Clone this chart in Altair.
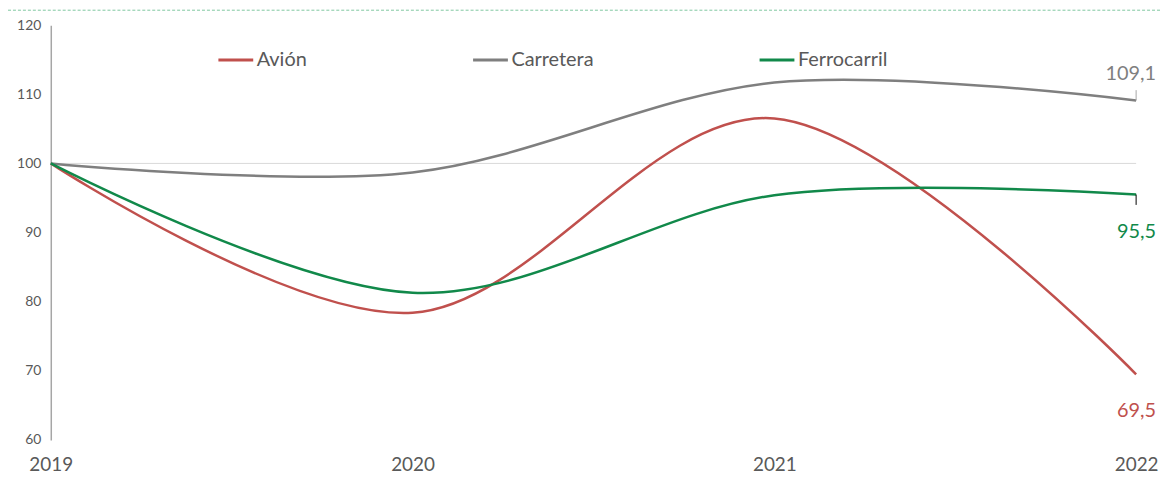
import altair as alt
import pandas as pd

years = [2019, 2020, 2021, 2022]
avion = [100, 78.4, 106.5, 69.5]
carretera = [100, 98.7, 111.7, 109.1]
ferrocarril = [100, 81.3, 95.4, 95.5]
series = ["Avión", "Carretera", "Ferrocarril"]
colors = ["#C0504D", "#7F7F7F", "#11894A"]

rows = []
for name, vals in zip(series, [avion, carretera, ferrocarril]):
    for y, v in zip(years, vals):
        rows.append({"year": y, "value": v, "serie": name})
df = pd.DataFrame(rows)

FONT = "Lato"
W, H = 1091, 417

xscale = alt.Scale(domain=[2019, 2022], nice=False, zero=False)
yscale = alt.Scale(domain=[60, 120], nice=False, zero=False)

x_axis = alt.Axis(values=years, format="d", title=None, grid=False, domain=False,
                  ticks=False, labelFontSize=19, labelColor="#595959", labelFont=FONT,
                  labelPadding=16, labelFlush=False)
y_axis = alt.Axis(values=[60, 70, 80, 90, 100, 110, 120], title=None, grid=False,
                  domain=True, domainColor="#A6A6A6", domainWidth=1.5, ticks=False,
                  labelFontSize=14, labelColor="#595959", labelFont=FONT, labelPadding=10)

ref = alt.Chart(pd.DataFrame({"value": [100]})).mark_rule(color="#D9D9D9", strokeWidth=1).encode(
    y=alt.Y("value:Q", scale=yscale, axis=y_axis)
)

topline = alt.Chart(pd.DataFrame({"v": [0]})).mark_rule(
    color="#7FC8A0", strokeDash=[3, 2], strokeWidth=1
).encode(x=alt.value(-43), x2=alt.value(W + 24), y=alt.value(-15))

lines = alt.Chart(df).mark_line(interpolate="cardinal", strokeWidth=2.5).encode(
    x=alt.X("year:Q", scale=xscale, axis=x_axis),
    y=alt.Y("value:Q", scale=yscale, axis=y_axis),
    color=alt.Color("serie:N", scale=alt.Scale(domain=series, range=colors),
                    legend=alt.Legend(title=None, orient="none", legendX=167, legendY=16,
                                      direction="horizontal", symbolType="stroke",
                                      symbolSize=1225, symbolStrokeWidth=3,
                                      labelFontSize=20, labelColor="#595959", labelFont=FONT,
                                      columnPadding=160, labelOffset=2)),
)

last = df[df["year"] == 2022]
lbl_texts = {"Avión": "69,5", "Carretera": "109,1", "Ferrocarril": "95,5"}
lbl_dy = {"Avión": 37, "Carretera": -27, "Ferrocarril": 38}
labels = []
for name, col in zip(series, colors):
    d = last[last["serie"] == name].assign(txt=lbl_texts[name])
    labels.append(
        alt.Chart(d).mark_text(font=FONT, fontSize=20, color=col, align="right",
                               baseline="middle", dx=20, dy=lbl_dy[name]).encode(
            x=alt.X("year:Q", scale=xscale),
            y=alt.Y("value:Q", scale=yscale),
            text="txt:N")
    )

# short leader lines for end labels
leaders = pd.DataFrame({"year": [2022, 2022], "value": [109.1, 95.5], "value2": [110.6, 94.0],
                        "c": ["#A6A6A6", "#000000"]})
lead = alt.Chart(leaders).mark_rule(strokeWidth=1).encode(
    x=alt.X("year:Q", scale=xscale),
    y=alt.Y("value:Q", scale=yscale),
    y2="value2:Q",
    color=alt.Color("c:N", scale=None),
)

chart = alt.layer(ref, topline, lines, lead, *labels).properties(
    width=W, height=H,
    autosize=alt.AutoSizeParams(type="none"),
    padding={"left": 43, "top": 16, "right": 24, "bottom": 38},
).configure(font=FONT).configure_view(stroke="transparent", strokeWidth=0)

chart.save("out.html", embed_options={"renderer": "svg", "actions": False})
